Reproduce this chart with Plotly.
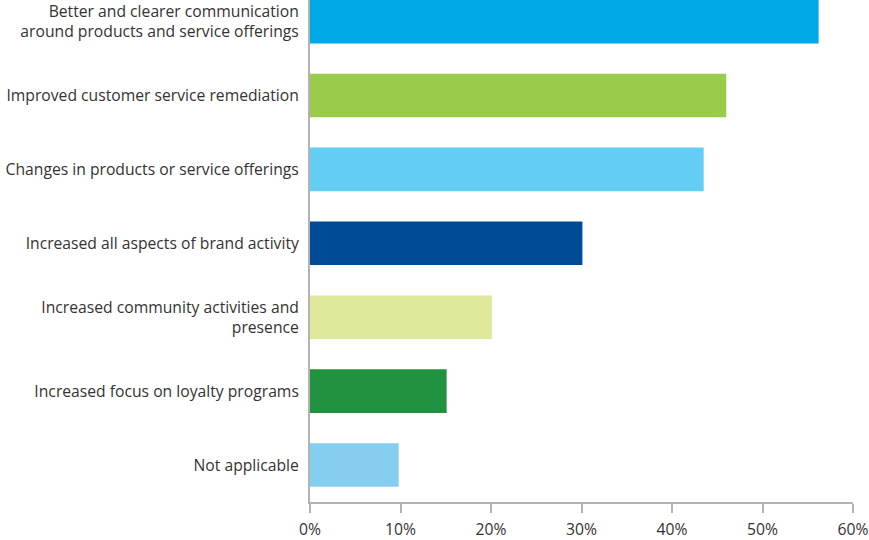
import plotly.graph_objects as go

# Survey responses, listed top to bottom as drawn
categories = [
    "Better and clearer communication<br>around products and service offerings",
    "Improved customer service remediation",
    "Changes in products or service offerings",
    "Increased all aspects of brand activity",
    "Increased community activities and<br>presence",
    "Increased focus on loyalty programs",
    "Not applicable",
]
values = [56.2, 46.0, 43.5, 30.1, 20.1, 15.1, 9.8]
bar_colors = ["#00A9E6", "#9BCB4A", "#63CDF3", "#004B95", "#DFE89B", "#21923F", "#86CEF0"]

x_tickvals = [0, 10, 20, 30, 40, 50, 60]
x_ticktext = ["0%", "10%", "20%", "30%", "40%", "50%", "60%"]

axis_grey = "#B3B3B3"
text_grey = "#333333"
font_family = "Open Sans"
label_size = 15.7

fig = go.Figure(
    go.Bar(
        x=values,
        y=categories,
        orientation="h",
        marker=dict(color=bar_colors, line=dict(width=0)),
        hoverinfo="x+y",
    )
)

fig.update_layout(
    width=869,
    height=540,
    margin=dict(l=310, r=16, t=0, b=38),
    paper_bgcolor="white",
    plot_bgcolor="white",
    bargap=0.41,
    showlegend=False,
    font=dict(family=font_family, size=label_size, color=text_grey),
)

fig.update_xaxes(
    range=[0, 60],
    tickvals=x_tickvals,
    ticktext=x_ticktext,
    showgrid=False,
    zeroline=False,
    showline=True,
    linecolor=axis_grey,
    linewidth=2,
    ticks="outside",
    ticklen=9,
    tickwidth=2,
    tickcolor=axis_grey,
    ticklabelstandoff=3,
    tickfont=dict(family=font_family, size=label_size, color=text_grey),
)

fig.update_yaxes(
    type="category",
    categoryorder="array",
    categoryarray=categories,
    range=[6.5, -0.292],
    showgrid=False,
    zeroline=False,
    showline=True,
    linecolor=axis_grey,
    linewidth=2,
    ticks="",
    ticklabelstandoff=6,
    tickfont=dict(family=font_family, size=label_size, color=text_grey),
)

fig.write_html("out.html")
